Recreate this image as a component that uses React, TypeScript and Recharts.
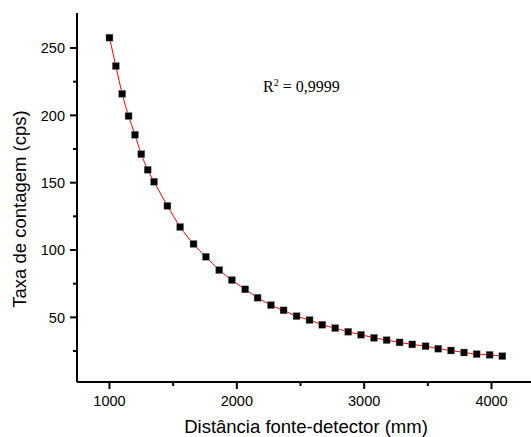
import React from "react";
import { ComposedChart, XAxis, YAxis, Scatter, Line } from "recharts";

const distances = [
  1000, 1050, 1100, 1150, 1200, 1250, 1300, 1350, 1455, 1555, 1660, 1757, 1862,
  1961, 2066, 2163, 2268, 2367, 2469, 2571, 2671, 2773, 2875, 2975, 3077, 3176,
  3278, 3378, 3482, 3582, 3682, 3784, 3883, 3985, 4085,
];
const rates = [
  257.7, 236.6, 216, 199.5, 185.6, 171.2, 159.6, 150.7, 132.8, 117.1, 104.5, 95,
  85.1, 77.7, 70.8, 64.6, 59.1, 55.2, 50.9, 48, 44.5, 42, 39.3, 37.1, 34.8, 33.1,
  31.4, 29.9, 28.6, 26.7, 25.4, 23.9, 22.7, 22.2, 21.2,
];
const xTicks = [1000, 1500, 2000, 2500, 3000, 3500, 4000];
const xMajor = [1000, 2000, 3000, 4000];
const yTicks = [25, 50, 75, 100, 125, 150, 175, 200, 225, 250];
const yMajor = [50, 100, 150, 200, 250];

const data = distances.map((x, i) => ({ x, y: rates[i] }));

const FONT = "'Liberation Sans', Arial, sans-serif";

const XTick = (props: any) => {
  const { x, y, payload } = props;
  const major = xMajor.includes(payload.value);
  return (
    <g>
      <line x1={x} x2={x} y1={y} y2={y + (major ? 7 : 4)} stroke="#000" strokeWidth={2} />
      {major && (
        <text x={x} y={y + 23.5} textAnchor="middle" fontFamily={FONT} fontSize={14.5} fill="#000">
          {payload.value}
        </text>
      )}
    </g>
  );
};

const YTick = (props: any) => {
  const { x, y, payload } = props;
  const major = yMajor.includes(payload.value);
  return (
    <g>
      <line x1={x - (major ? 7 : 4)} x2={x} y1={y} y2={y} stroke="#000" strokeWidth={2} />
      {major && (
        <text x={x - 12} y={y + 5.2} textAnchor="end" fontFamily={FONT} fontSize={14.5} fill="#000">
          {payload.value}
        </text>
      )}
    </g>
  );
};

const Square = (props: any) => {
  const { cx, cy } = props;
  return <rect x={cx - 3.5} y={cy - 3.5} width={7} height={7} fill="#000" stroke="#888" strokeWidth={0.4} />;
};

export default function App() {
  return (
    <div style={{ position: "absolute", left: 0, top: 0, width: 531, height: 437, background: "#fff" }}>
      <ComposedChart width={531} height={437} data={data} margin={{ top: 13, right: 0, bottom: 0, left: 0 }}>
        <XAxis
          dataKey="x"
          type="number"
          domain={[745, 4310]}
          ticks={xTicks}
          interval={0}
          allowDataOverflow
          height={55}
          tickSize={0}
          tickMargin={0}
          tickLine={false}
          axisLine={{ stroke: "#000", strokeWidth: 2 }}
          tick={<XTick />}
        />
        <YAxis
          type="number"
          domain={[2, 276]}
          ticks={yTicks}
          interval={0}
          allowDataOverflow
          width={77}
          tickSize={0}
          tickMargin={0}
          tickLine={false}
          axisLine={{ stroke: "#000", strokeWidth: 2 }}
          tick={<YTick />}
        />
        <Scatter dataKey="y" shape={<Square />} isAnimationActive={false} />
        <Line dataKey="y" type="monotone" stroke="#ff0000" strokeWidth={1} dot={false} isAnimationActive={false} />
      </ComposedChart>
      <div
        style={{
          position: "absolute",
          left: 306,
          top: 427,
          transform: "translate(-50%, -50%)",
          fontFamily: FONT,
          fontSize: 18.5,
          whiteSpace: "nowrap",
          color: "#000",
          lineHeight: 1,
        }}
      >
        Distância fonte-detector (mm)
      </div>
      <div
        style={{
          position: "absolute",
          left: 19.5,
          top: 209,
          transform: "translate(-50%, -50%) rotate(-90deg)",
          fontFamily: FONT,
          fontSize: 18.5,
          whiteSpace: "nowrap",
          color: "#000",
          lineHeight: 1,
        }}
      >
        Taxa de contagem (cps)
      </div>
      <div
        style={{
          position: "absolute",
          left: 263,
          top: 79,
          fontFamily: "'Liberation Serif', 'Times New Roman', serif",
          fontSize: 16,
          whiteSpace: "nowrap",
          color: "#000",
          lineHeight: 1,
        }}
      >
        R<sup style={{ fontSize: 10, verticalAlign: "top", position: "relative", top: -1 }}>2</sup> = 0,9999
      </div>
    </div>
  );
}
